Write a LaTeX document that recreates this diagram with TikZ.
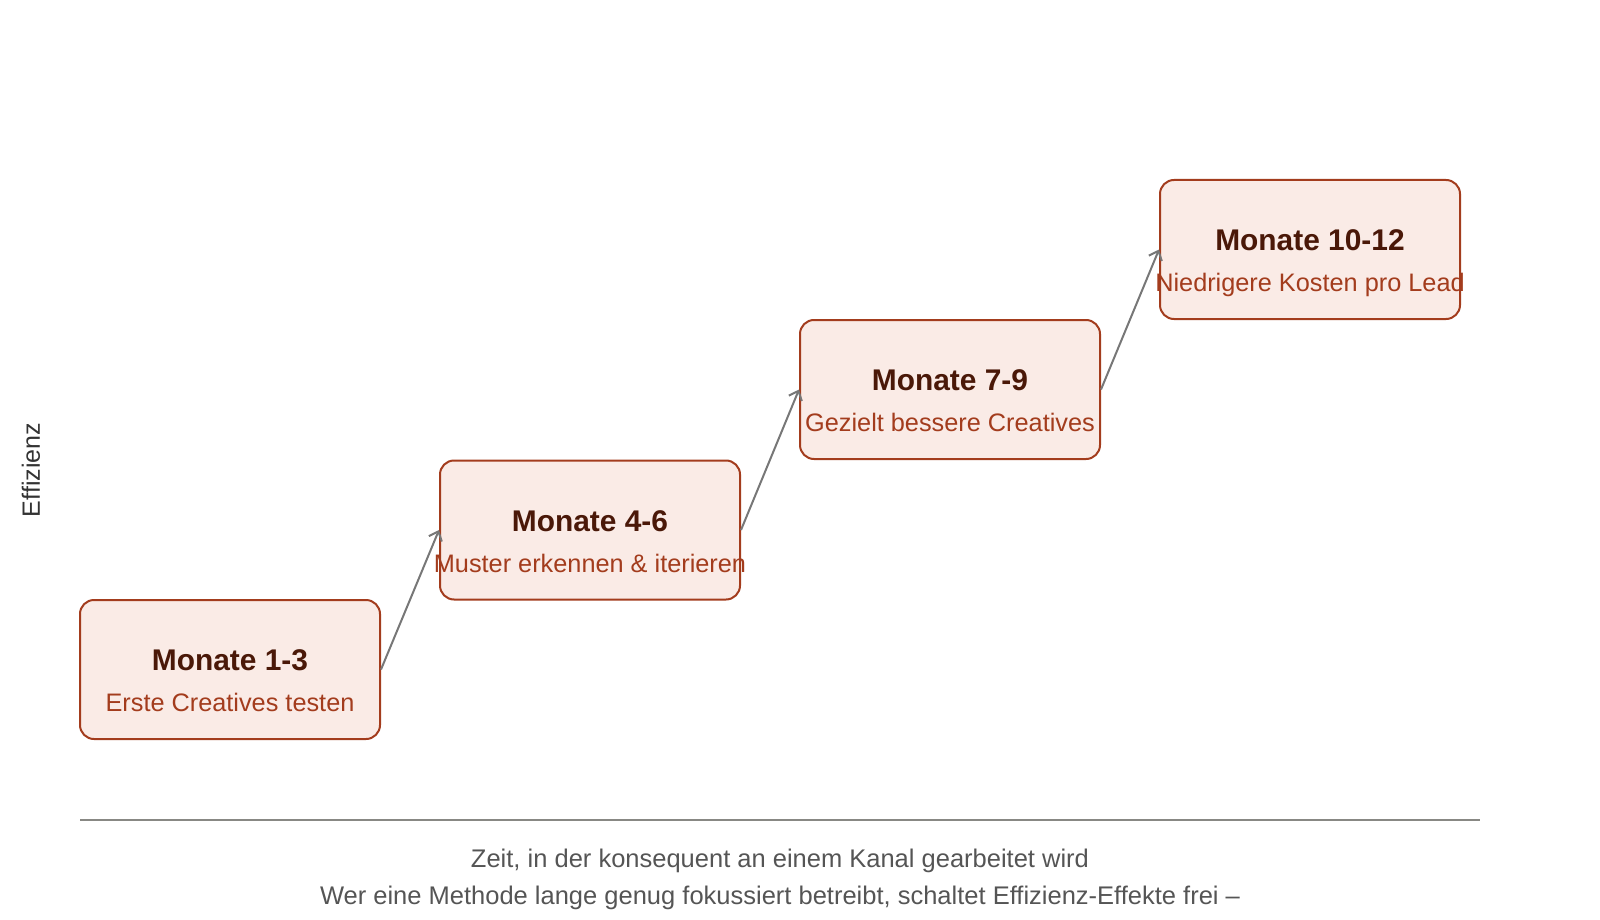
\documentclass[tikz,border=0pt]{standalone}
\usepackage{fontspec}
\setmainfont{Liberation Sans}
\usetikzlibrary{arrows.meta}
\definecolor{boxfill}{HTML}{FAEBE6}
\definecolor{boxline}{HTML}{A33C1D}
\definecolor{titlecol}{HTML}{4A1808}
\definecolor{subcol}{HTML}{A33C1D}
\definecolor{arrowcol}{HTML}{777777}
\definecolor{axiscol}{HTML}{888884}
\definecolor{textgray}{HTML}{555555}
\tikzset{
  stagebox/.style={draw=boxline, fill=boxfill, line width=2pt, rounded corners=14pt,
    minimum width=300pt, minimum height=139pt, inner sep=0pt},
  stagetitle/.style={anchor=base, text=titlecol, font=\fontsize{29.9}{34}\selectfont\bfseries, inner sep=0pt},
  stagesub/.style={anchor=base, text=subcol, font=\fontsize{25.3}{30}\selectfont, inner sep=0pt},
  stagearrow/.style={draw=arrowcol, line width=2pt, -{Straight Barb[length=8pt,width=14pt]}},
  caption/.style={anchor=base, text=textgray, font=\fontsize{25.5}{30}\selectfont, inner sep=0pt}
}
\begin{document}
\begin{tikzpicture}[x=1pt,y=-1pt]
\useasboundingbox (0,0) rectangle (1600,920);
\node[stagebox] (b1) at (230,669.5) {};
\node[stagebox] (b2) at (590,530) {};
\node[stagebox] (b3) at (950,389.5) {};
\node[stagebox] (b4) at (1310,249.5) {};
\foreach \b/\t/\s in {b1/{Monate 1-3}/{Erste Creatives testen},
                      b2/{Monate 4-6}/{Muster erkennen \& iterieren},
                      b3/{Monate 7-9}/{Gezielt bessere Creatives},
                      b4/{Monate 10-12}/{Niedrigere Kosten pro Lead}}{
  \node[stagetitle] (\b t) at ([yshift=-1pt]\b.center) {\t};
  \node[stagesub] (\b s) at ([yshift=-42pt]\b.center) {\s};
}
\draw[stagearrow] (b1.east) -- (b2.west);
\draw[stagearrow] (b2.east) -- (b3.west);
\draw[stagearrow] (b3.east) -- (b4.west);
\coordinate (axl) at (80,820);
\coordinate (axr) at (1480,820);
\draw[axiscol, line width=2pt] (axl) -- (axr);
\node[caption] (c1) at (780,867.5) {Zeit, in der konsequent an einem Kanal gearbeitet wird};
\node[caption] (c2) at (780,904) {Wer eine Methode lange genug fokussiert betreibt, schaltet Effizienz-Effekte frei –};
\node[rotate=90, text=black!80, font=\fontsize{25}{30}\selectfont, inner sep=0pt] (ylab) at (31,470) {Effizienz};
\end{tikzpicture}
\end{document}
